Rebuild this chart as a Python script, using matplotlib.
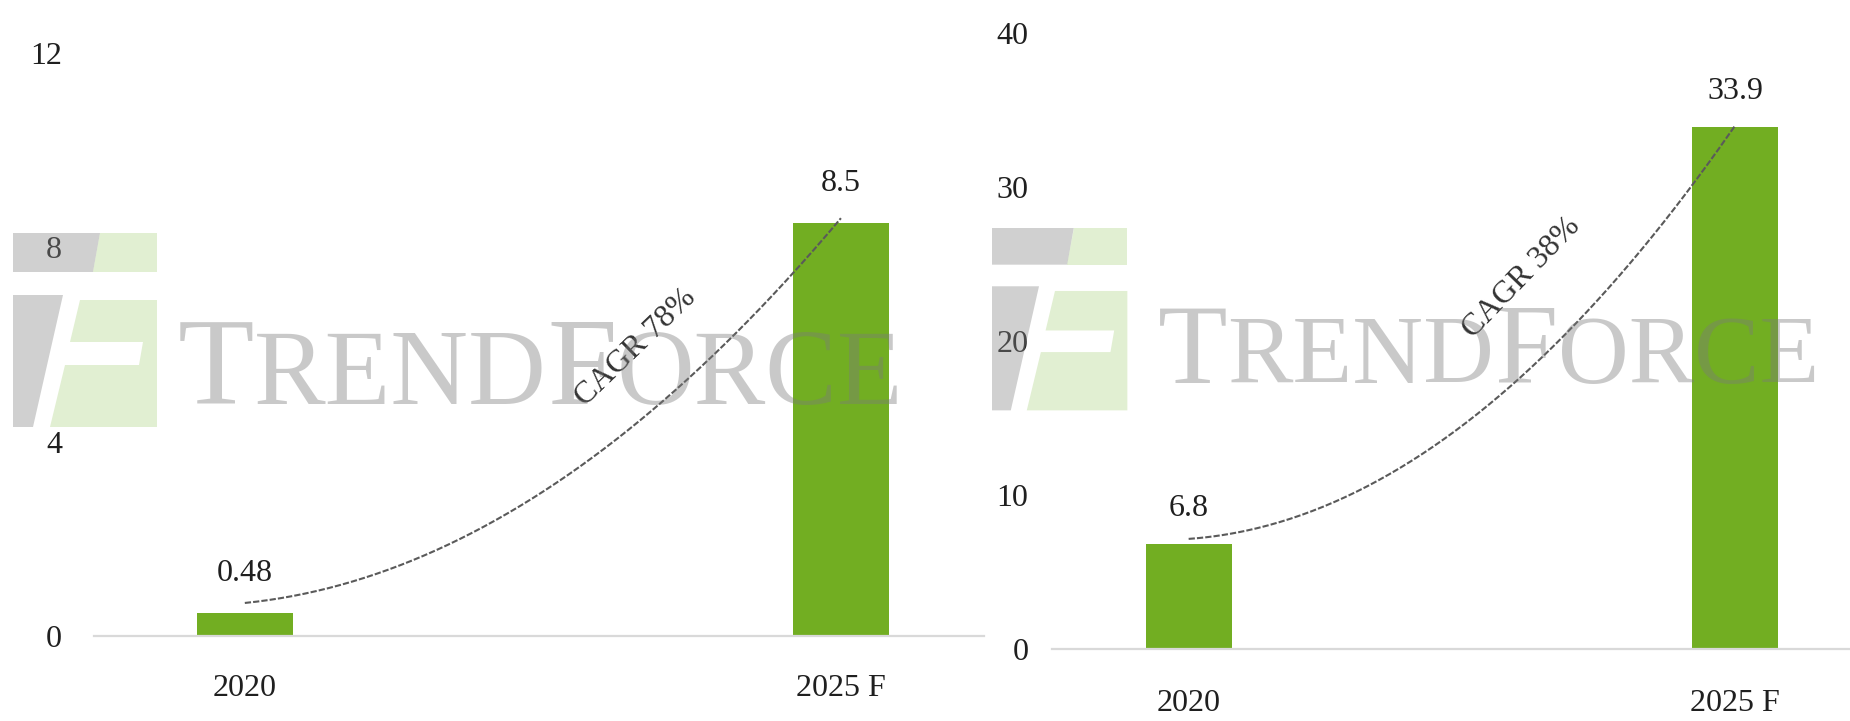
import matplotlib
matplotlib.use("Agg")
import matplotlib.pyplot as plt
from matplotlib.patches import Polygon
import numpy as np

# Chart data
categories = ["2020", "2025 F"]
left_values = [0.48, 8.5]
left_labels = ["0.48", "8.5"]
left_yticks = [0, 4, 8, 12]
left_cagr = "CAGR 78%"
right_values = [6.8, 33.9]
right_labels = ["6.8", "33.9"]
right_yticks = [0, 10, 20, 30, 40]
right_cagr = "CAGR 38%"

W, H = 1850, 721
GREEN = "#72AE22"
DARK = "#1f1f1f"

plt.rcParams["font.family"] = ["Liberation Serif", "DejaVu Serif"]
fig = plt.figure(figsize=(W / 100, H / 100), dpi=100)


def px(x0, y0, w, h):
    # pixel box (top-left origin) -> figure fraction
    return [x0 / W, 1 - (y0 + h) / H, w / W, h / H]


ax1 = fig.add_axes(px(94, 53, 890, 583))
ax2 = fig.add_axes(px(1052, 33, 798, 616))

panels = [
    # ax, values, labels, yticks, cagr text, xlim, bar width, ypad, xpad, label offset, curve (start, ctrl), cagr pos, angle
    (ax1, left_values, left_labels, left_yticks, left_cagr, (-0.253, 1.24), 0.16, 23, 27, 18, (0.2, 0.82), (0.656, 5.93), 44),
    (ax2, right_values, right_labels, right_yticks, right_cagr, (-0.25, 1.21), 0.157, 17, 29, 15, (0.35, 1.6), (0.609, 24.1), 46),
]

for ax, vals, labs, yt, cagr, xl, bw, ypad, xpad, loff, crv, cpos, ang in panels:
    x = np.arange(len(categories))
    ax.bar(x, vals, bw, color=GREEN, zorder=2)
    ax.set_xlim(*xl)
    ax.set_ylim(yt[0], yt[-1])
    ax.set_yticks(yt)
    ax.set_xticks(x, categories)
    ax.tick_params(length=0, labelsize=23, labelcolor=DARK)
    ax.tick_params(axis="y", pad=ypad)
    ax.tick_params(axis="x", pad=xpad)
    for s in ["top", "right", "left"]:
        ax.spines[s].set_visible(False)
    ax.spines["bottom"].set_color("#D9D9D9")
    ax.spines["bottom"].set_linewidth(1.6)

    for xi, v, lab in zip(x, vals, labs):
        ax.annotate(lab, (xi, v), xytext=(0, loff), textcoords="offset points",
                    ha="center", va="bottom", fontsize=23, color=DARK)

    # growth curve between the two bar tops
    t = np.linspace(0, 1, 200)
    p0 = np.array([x[0], vals[0] + crv[0]])
    p1 = np.array([(x[0] + x[1]) / 2, vals[0] + crv[1]])
    p2 = np.array([x[1], vals[1] + 0.1])
    cx = (1 - t) ** 2 * p0[0] + 2 * (1 - t) * t * p1[0] + t ** 2 * p2[0]
    cy = (1 - t) ** 2 * p0[1] + 2 * (1 - t) * t * p1[1] + t ** 2 * p2[1]
    ax.plot(cx, cy, color="#5a5a5a", lw=1.5, ls=(0, (3, 1)), zorder=3, clip_on=False)

    ax.text(cpos[0], cpos[1], cagr, rotation=ang, rotation_mode="anchor",
            ha="center", va="center", fontsize=23, color="#333333", zorder=4)

# watermark logo (gray / light green "F" mark)
logo_gray = [
    [(0, 0), (87, 0), (80, 39), (0, 39)],
    [(0, 62), (50, 62), (20, 194), (0, 194)],
]
logo_green = [
    [(87, 0), (144, 0), (144, 39), (80, 39)],
    [(67, 67), (144, 67), (144, 194), (37, 194), (52, 132), (126, 132), (130, 109), (57, 109)],
]


def draw_logo(ox, oy, sc):
    for shapes, col, a in [(logo_gray, "#8a8a8a", 0.4), (logo_green, "#9CCB6A", 0.3)]:
        for shp in shapes:
            pts = [((ox + sx * sc) / W, 1 - (oy + sy * sc) / H) for sx, sy in shp]
            fig.patches.append(Polygon(pts, closed=True, transform=fig.transFigure,
                                       facecolor=col, alpha=a, edgecolor="none", zorder=5))


draw_logo(13, 233, 1.0)
draw_logo(992, 228, 0.94)

# watermark word in small caps
renderer = fig.canvas.get_renderer()


def draw_word(x0, base, size):
    xcur = x0
    for part, big in [("T", True), ("REND", False), ("F", True), ("ORCE", False)]:
        fs = size if big else size * 0.86
        t = fig.text(xcur / W, 1 - base / H, part, fontsize=fs, color="#7a7a7a",
                     alpha=0.4, ha="left", va="baseline", zorder=6)
        xcur += t.get_window_extent(renderer).width


draw_word(178, 404, 90)
draw_word(1158, 383, 82)

fig.savefig("out.png", dpi=100)
